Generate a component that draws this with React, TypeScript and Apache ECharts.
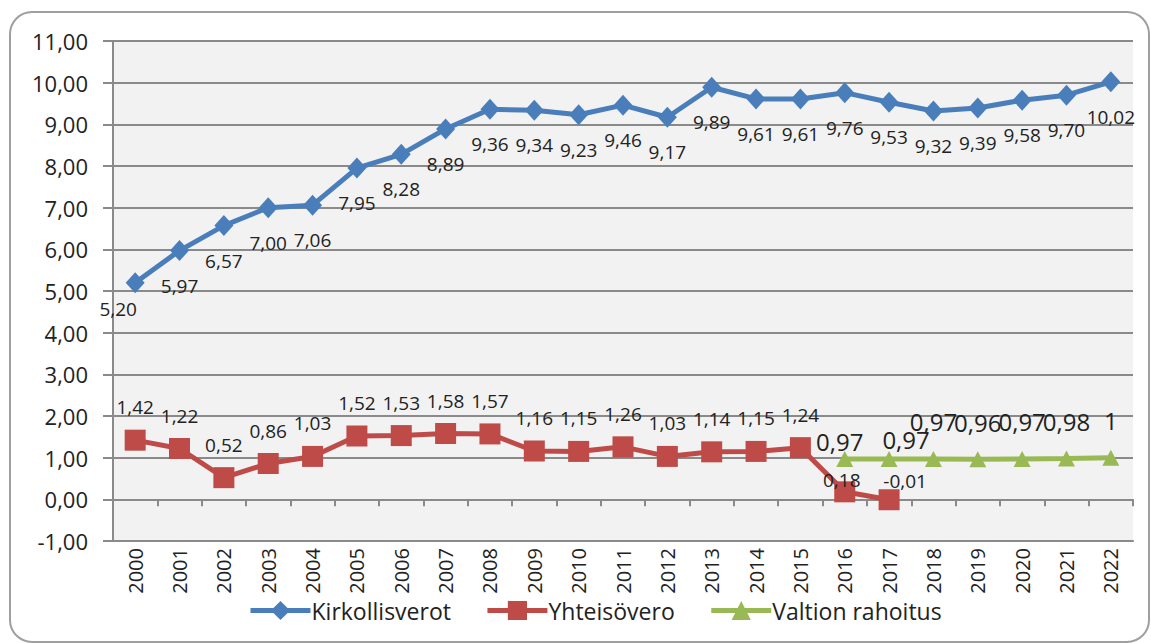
import React, { useEffect, useRef } from "react";
import * as echarts from "echarts";

const years = [
  "2000", "2001", "2002", "2003", "2004", "2005", "2006", "2007", "2008", "2009", "2010", "2011",
  "2012", "2013", "2014", "2015", "2016", "2017", "2018", "2019", "2020", "2021", "2022",
];

const kirkollisverot = [
  5.2, 5.97, 6.57, 7.0, 7.06, 7.95, 8.28, 8.89, 9.36, 9.34, 9.23, 9.46,
  9.17, 9.89, 9.61, 9.61, 9.76, 9.53, 9.32, 9.39, 9.58, 9.7, 10.02,
];

const yhteisovero: (number | null)[] = [
  1.42, 1.22, 0.52, 0.86, 1.03, 1.52, 1.53, 1.58, 1.57, 1.16, 1.15, 1.26,
  1.03, 1.14, 1.15, 1.24, 0.18, -0.01, null, null, null, null, null,
];

const valtionRahoitus: (number | null)[] = [
  null, null, null, null, null, null, null, null, null, null, null, null,
  null, null, null, null, 0.97, 0.97, 0.97, 0.96, 0.97, 0.98, 1,
];

const seriesNames = ["Kirkollisverot", "Yhteisövero", "Valtion rahoitus"];

// label offsets (layout only)
const blueLabelOffsets: Record<number, [number, number]> = { 0: [-17, 26] };
const redLabelOffsets: Record<number, [number, number]> = { 16: [-3, -12], 17: [16, -19] };
const greenLabelOffsets: Record<number, [number, number]> = { 16: [-5, -17], 17: [17, -19] };

const FONT = "'Open Sans', 'Noto Sans', sans-serif";
const TEXT = "#222222";

function withOffsets(
  values: (number | null)[],
  defOffset: [number, number],
  special: Record<number, [number, number]>
) {
  return values.map((v, i) => ({
    value: v,
    label: { offset: special[i] ?? defOffset },
  }));
}

export default function App() {
  const ref = useRef<HTMLDivElement>(null);

  useEffect(() => {
    if (!ref.current) return;
    const chart = echarts.init(ref.current, null, { renderer: "svg" });
    const grid = { left: 113, right: 18, top: 41, bottom: 102 };
    chart.setOption({
      animation: false,
      backgroundColor: "#ffffff",
      textStyle: { fontFamily: FONT },
      graphic: [
        {
          type: "rect",
          shape: { x: 10, y: 12, width: 1139, height: 630, r: 22 },
          style: { fill: "none", stroke: "#9f9f9f", lineWidth: 2 },
          silent: true,
          z: -10,
        },
      ],
      grid: {
        ...grid,
        show: true,
        backgroundColor: "#f2f2f2",
        borderWidth: 0,
      },
      legend: {
        left: 243,
        top: 594,
        itemWidth: 60,
        itemHeight: 24,
        itemGap: 34,
        data: seriesNames,
        lineStyle: { width: 5 },
        textStyle: { fontFamily: FONT, fontSize: 23, color: TEXT, padding: [0, 0, 0, -4] },
      },
      xAxis: [
        {
          type: "category",
          data: years,
          boundaryGap: true,
          position: "bottom",
          axisLine: { show: true, onZero: false, lineStyle: { color: "#8a8a8a", width: 2 } },
          axisTick: { show: false },
          axisLabel: {
            rotate: 90,
            margin: 7,
            fontSize: 20,
            color: TEXT,
            fontFamily: FONT,
            interval: 0,
          },
        },
        {
          type: "category",
          data: years,
          boundaryGap: true,
          position: "bottom",
          axisLine: { show: true, onZero: true, lineStyle: { color: "#8a8a8a", width: 2 } },
          axisTick: { show: true, length: 7, lineStyle: { color: "#8a8a8a", width: 2 } },
          axisLabel: { show: false },
        },
      ],
      yAxis: {
        type: "value",
        min: -1,
        max: 11,
        interval: 1,
        axisLine: { show: true, lineStyle: { color: "#8a8a8a", width: 2 } },
        axisTick: { show: true, length: 10, lineStyle: { color: "#8a8a8a", width: 2 } },
        splitLine: { show: true, lineStyle: { color: "#8a8a8a", width: 2 } },
        axisLabel: {
          margin: 25,
          fontSize: 22,
          color: TEXT,
          fontFamily: FONT,
          formatter: (v: number) => v.toFixed(2).replace(".", ","),
        },
      },
      series: [
        {
          name: seriesNames[0],
          type: "line",
          data: withOffsets(kirkollisverot, [0, 35], blueLabelOffsets),
          symbol: "diamond",
          symbolSize: [19, 21],
          itemStyle: { color: "#4a7ebb" },
          lineStyle: { color: "#4a7ebb", width: 5 },
          label: {
            show: true,
            position: "inside",
            fontSize: 19,
            color: TEXT,
            fontFamily: FONT,
            formatter: (p: any) => Number(p.value).toFixed(2).replace(".", ","),
          },
          z: 2,
        },
        {
          name: seriesNames[1],
          type: "line",
          data: withOffsets(yhteisovero, [0, -33], redLabelOffsets),
          symbol: "rect",
          symbolSize: 21,
          itemStyle: { color: "#be4b48" },
          lineStyle: { color: "#be4b48", width: 5 },
          label: {
            show: true,
            position: "inside",
            fontSize: 19,
            color: TEXT,
            fontFamily: FONT,
            formatter: (p: any) => Number(p.value).toFixed(2).replace(".", ","),
          },
          z: 3,
        },
        {
          name: seriesNames[2],
          type: "line",
          data: withOffsets(valtionRahoitus, [0, -37], greenLabelOffsets),
          symbol: "triangle",
          symbolSize: [17, 16],
          itemStyle: { color: "#98b954" },
          lineStyle: { color: "#98b954", width: 5 },
          label: {
            show: true,
            position: "inside",
            fontSize: 24,
            color: TEXT,
            fontFamily: FONT,
            formatter: (p: any) => String(p.value).replace(".", ","),
          },
          z: 4,
        },
      ],
    });
    return () => chart.dispose();
  }, []);

  return (
    <div
      ref={ref}
      style={{ position: "fixed", left: 0, top: 0, width: 1151, height: 643 }}
    />
  );
}
